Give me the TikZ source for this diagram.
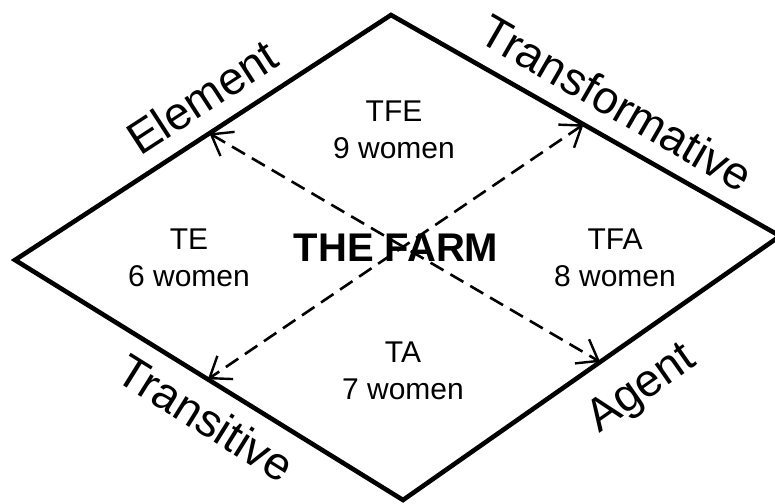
\documentclass[tikz,border=0pt]{standalone}
\usepackage{fontspec}
\setmainfont{Liberation Sans}
\usetikzlibrary{arrows.meta,calc}
\begin{document}
\begin{tikzpicture}[x=1pt,y=-1pt,
  edge/.style={line width=4.6pt, line join=miter},
  dasharrow/.style={line width=2.6pt, dash pattern=on 15pt off 8pt,
    {Straight Barb[length=19pt,width=28pt,line width=2.4pt]}-{Straight Barb[length=19pt,width=28pt,line width=2.4pt]}},
  side/.style={font=\fontsize{46}{50}\selectfont, inner sep=0pt},
  cell/.style={font=\fontsize{30}{37}\selectfont, align=center, inner sep=0pt},
  title/.style={font=\fontsize{40}{44}\selectfont\bfseries, inner sep=0pt}]
\useasboundingbox (0,0) rectangle (775,503);
% diamond vertices
\coordinate (T) at (391,15);
\coordinate (R) at (780,236);
\coordinate (B) at (403,500);
\coordinate (L) at (15,260);
\draw[edge] (T) -- (R) -- (B) -- (L) -- cycle;
% arrow tips on the edges
\coordinate (nw) at ($(L)!0.517!(T)$);
\coordinate (ne) at ($(T)!0.495!(R)$);
\coordinate (sw) at ($(L)!0.497!(B)$);
\coordinate (se) at ($(B)!0.523!(R)$);
\draw[dasharrow] (nw) -- (se);
\draw[dasharrow] (ne) -- (sw);
% side labels
\node[side, rotate=33] (element) at (202,97) {Element};
\node[side, rotate=-30] (transformative) at (617,103) {Transformative};
\node[side, rotate=-32] (transitive) at (206,418) {Transitive};
\node[side, rotate=35] (agent) at (642,390) {Agent};
% cells
\node[cell] (tfe) at (394,130) {TFE\\9 women};
\node[cell] (te) at (189,258) {TE\\6 women};
\node[cell] (tfa) at (615,258) {TFA\\8 women};
\node[cell] (ta) at (403,371) {TA\\7 women};
\node[title] (farm) at (396,248) {THE FARM};
\end{tikzpicture}
\end{document}
